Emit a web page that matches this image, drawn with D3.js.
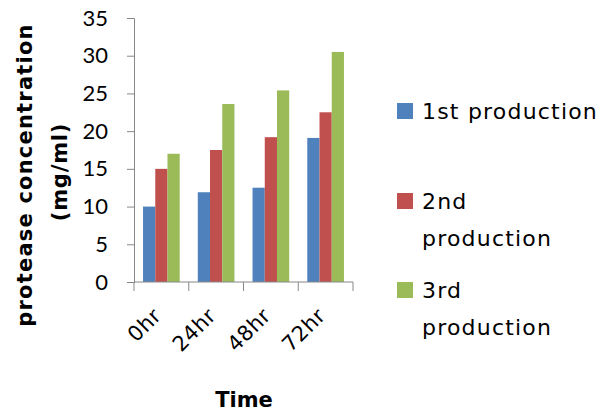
<!DOCTYPE html>
<html><head><meta charset="utf-8">
<script src="https://cdn.jsdelivr.net/npm/d3@7"></script>
<style>body{margin:0;background:#fff}svg{display:block}</style>
</head><body>
<script>
const categories = ["0hr","24hr","48hr","72hr"];
const seriesNames = ["1st production","2nd production","3rd production"];
const first = [10.0, 11.9, 12.5, 19.1];
const second = [15.0, 17.5, 19.2, 22.5];
const third = [17.0, 23.6, 25.4, 30.5];
const yTicks = [0,5,10,15,20,25,30,35];
const colors = ["#4F81BD","#C0504D","#9BBB59"];
const series = [first, second, third];

const W = 601, H = 414;
const svg = d3.select("body").append("svg").attr("width", W).attr("height", H);
const L = 134, R = 353, T = 18, B = 282;
const x = d3.scaleBand().domain(categories).range([L, R]).paddingInner(0.33).paddingOuter(0.165);
const xs = d3.scaleBand().domain(d3.range(3)).range([0, x.bandwidth()]);
const y = d3.scaleLinear().domain([0,35]).range([B, T]);
const comic = "'DejaVu Sans', sans-serif";

// bars
series.forEach((vals, si) => {
  svg.append("g").selectAll("rect").data(vals).join("rect")
    .attr("x", (d,i) => x(categories[i]) + xs(si))
    .attr("width", xs.bandwidth())
    .attr("y", d => y(d))
    .attr("height", d => B - y(d))
    .attr("fill", colors[si]);
});

// y axis
const ya = svg.append("g").attr("transform", `translate(${L},0)`)
  .call(d3.axisLeft(y).tickValues(yTicks).tickSize(7).tickPadding(19));
ya.select(".domain").attr("stroke", "#888");
ya.selectAll(".tick line").attr("stroke", "#888");
ya.selectAll("text").attr("font-family", "Lato, 'Open Sans', sans-serif").attr("font-size", 22).attr("fill", "#000");

// x axis line and ticks at band boundaries
svg.append("line").attr("x1", L).attr("x2", R).attr("y1", B).attr("y2", B).attr("stroke", "#888");
const step = x.step();
const bounds = categories.map(c => x(c) - x.paddingInner()*step/2).concat([R]);
svg.append("g").selectAll("line").data(bounds).join("line")
  .attr("x1", d => d).attr("x2", d => d).attr("y1", B).attr("y2", B + 9).attr("stroke", "#888");

// x tick labels
svg.append("g").selectAll("text").data(categories).join("text")
  .attr("transform", d => `translate(${x(d) + x.bandwidth()/2 + 1},${B + 35}) rotate(-45)`)
  .attr("text-anchor", "end")
  .attr("font-family", comic).attr("font-size", 21).attr("letter-spacing", 0.5).text(d => d);

// axis titles
svg.append("text").attr("transform", "translate(244,407)").attr("text-anchor", "middle")
  .attr("font-family", comic).attr("font-weight", "bold").attr("font-size", 21).text("Time");
svg.append("text").attr("transform", "translate(32,175) rotate(-90)").attr("text-anchor", "middle")
  .attr("font-family", comic).attr("font-weight", "bold").attr("font-size", 21).attr("letter-spacing", 1.2).text("protease concentration");
svg.append("text").attr("transform", "translate(67,172) rotate(-90)").attr("text-anchor", "middle")
  .attr("font-family", comic).attr("font-weight", "bold").attr("font-size", 21).attr("letter-spacing", 0.8).text("(mg/ml)");

// legend
const legendLines = [["1st production"],["2nd","production"],["3rd","production"]];
const legendY = [103, 193, 282];
legendLines.forEach((lines, i) => {
  const g = svg.append("g").attr("transform", `translate(397,${legendY[i]})`);
  g.append("rect").attr("width", 16).attr("height", 16).attr("fill", colors[i]);
  lines.forEach((t, j) => {
    g.append("text").attr("x", 25).attr("y", 16 + j*37)
      .attr("font-family", comic).attr("font-size", 22).attr("letter-spacing", 1.2).text(t);
  });
});
</script>
</body></html>
